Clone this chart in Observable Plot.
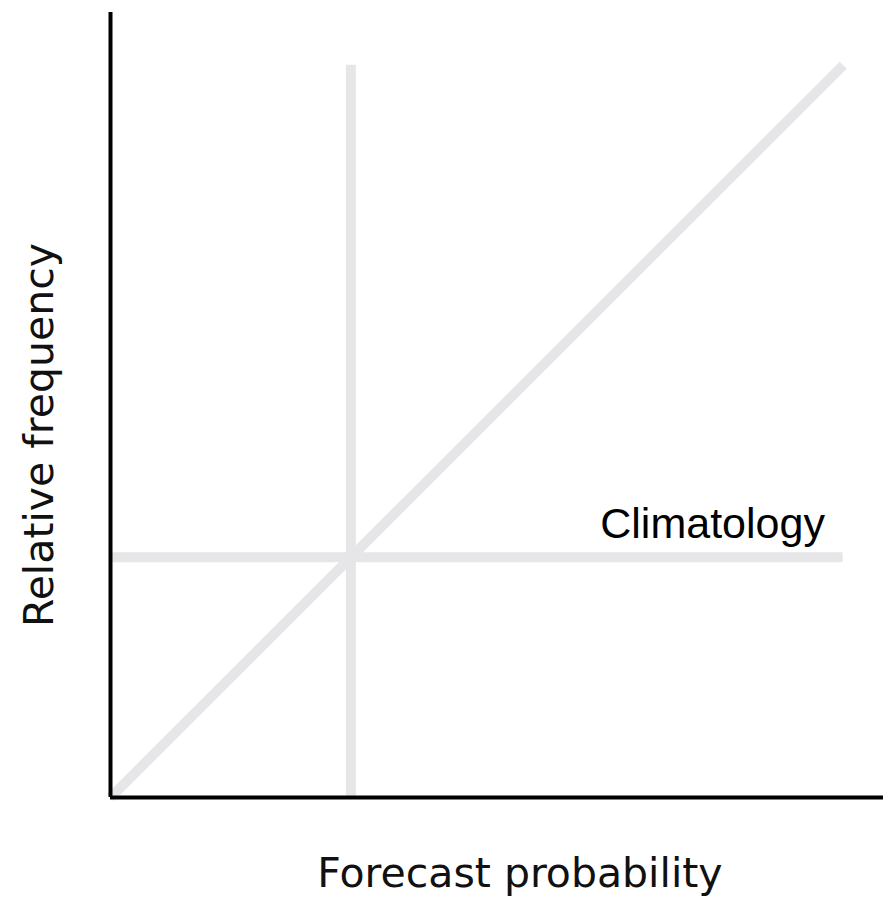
<!DOCTYPE html>
<html>
<head>
<meta charset="utf-8">
<script src="https://cdn.jsdelivr.net/npm/d3@7"></script>
<script src="https://cdn.jsdelivr.net/npm/@observablehq/plot@0.6"></script>
<style>
  html, body { margin: 0; padding: 0; background: #fff; }
  #chart svg { display: block; }
</style>
</head>
<body>
<div id="chart"></div>
<script>
// Data
const climatology = 0.328;           // climatological base rate
const perfectLine = [[0, 0], [1, 1]]; // perfect reliability diagonal
const climLabel = "Climatology";
const xLabel = "Forecast probability";
const yLabel = "Relative frequency";
const xDomain = [0, 1.055];
const yDomain = [0, 1.072];

const light = "#e6e6e8";
const chart = Plot.plot({
  width: 883,
  height: 898,
  marginLeft: 110,
  marginRight: 0,
  marginTop: 12,
  marginBottom: 101,
  x: {domain: xDomain, axis: null},
  y: {domain: yDomain, axis: null},
  marks: [
    Plot.line(perfectLine, {x: d => d[0], y: d => d[1], stroke: light, strokeWidth: 10, strokeLinecap: "butt"}),
    Plot.ruleX([climatology], {y1: 0, y2: 1, stroke: light, strokeWidth: 10}),
    Plot.ruleY([climatology], {x1: 0, x2: 1, stroke: light, strokeWidth: 10}),
    Plot.ruleX([0], {stroke: "#000", strokeWidth: 4}),
    Plot.ruleY([0], {stroke: "#000", strokeWidth: 4}),
    Plot.text([climLabel], {x: 0.975, y: 0.354, text: d => d, textAnchor: "end", lineAnchor: "bottom",
      fontSize: 43, fontFamily: "'Liberation Sans', Arial, Helvetica, sans-serif", fill: "#000"}),
    Plot.text([xLabel], {frameAnchor: "bottom", text: d => d, textAnchor: "middle", dx: 23, dy: 89, lineAnchor: "bottom",
      fontSize: 41, fontFamily: "'DejaVu Sans', sans-serif", fill: "#111"}),
    Plot.text([yLabel], {frameAnchor: "left", text: d => d, textAnchor: "middle", rotate: -90, dx: -58, dy: 30, lineAnchor: "bottom",
      fontSize: 41, fontFamily: "'DejaVu Sans', sans-serif", fill: "#111"})
  ]
});
document.getElementById("chart").appendChild(chart);
</script>
</body>
</html>
